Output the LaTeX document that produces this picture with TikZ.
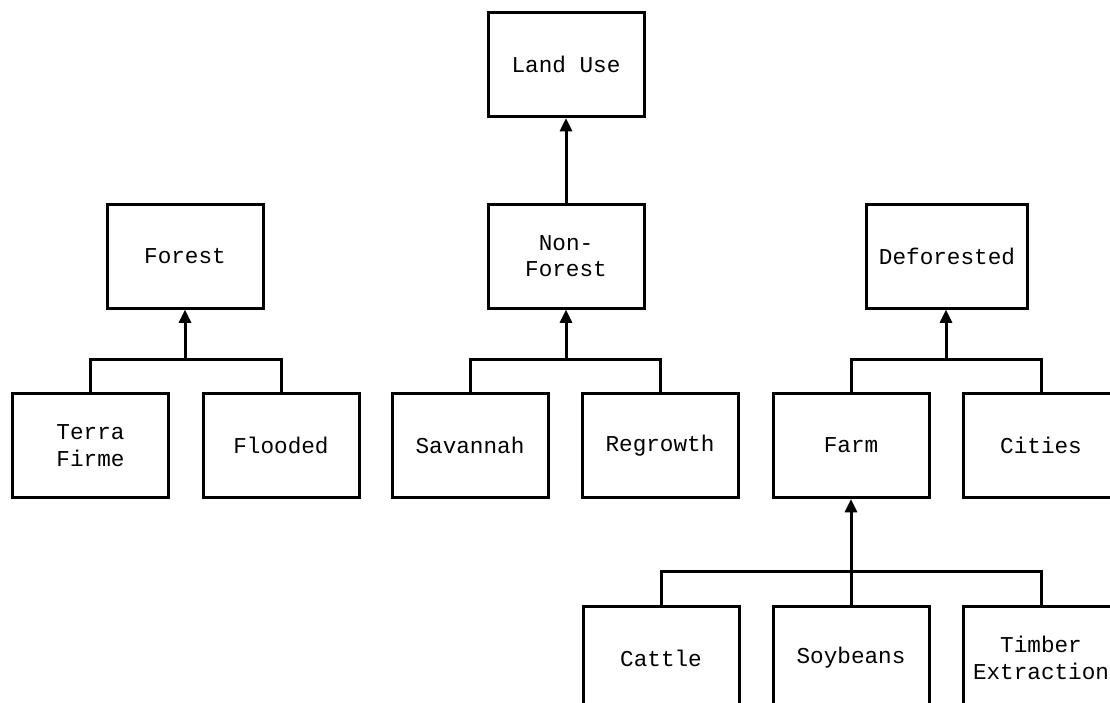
\documentclass[tikz,border=0pt]{standalone}
\usepackage{fontspec}
\setmainfont{Liberation Mono}
\usetikzlibrary{arrows.meta,calc}
\begin{document}
\begin{tikzpicture}[x=0.75pt,y=-0.75pt,
  box/.style={draw,line width=2.25pt,rectangle,minimum width=117pt,minimum height=78pt,inner sep=0pt,align=center,font=\fontsize{17}{20}\selectfont},
  link/.style={line width=2.25pt},
  up/.style={line width=2.25pt,-{Triangle[width=9pt,length=10pt]}}]
\path[use as bounding box] (0,0) rectangle (1110,703);
\begin{scope}
\clip (0,0) rectangle (1110,703);
\node[box] (landuse) at (566,64.5) {Land Use};
\node[box] (forest) at (185,256) {Forest};
\node[box] (nonforest) at (566,256) {Non-\\Forest};
\node[box,minimum width=121pt] (deforested) at (947,256) {Deforested};
\node[box] (terra) at (90.5,445.5) {Terra\\Firme};
\node[box] (flooded) at (281,445.5) {Flooded};
\node[box] (savannah) at (470,445.5) {Savannah};
\node[box] (regrowth) at (660,445.5) {Regrowth};
\node[box] (farm) at (851,445.5) {Farm};
\node[box] (cities) at (1041,445.5) {Cities};
\node[box] (cattle) at (661,658) {Cattle};
\node[box] (soybeans) at (851,658) {Soybeans};
\node[box] (timber) at (1041,658) {Timber\\Extraction};
\coordinate (fj) at (185,359);
\coordinate (nj) at (566,359);
\coordinate (dj) at (946,359);
\coordinate (mj) at (851,571);
\draw[link] (terra.north) |- (fj) -| (flooded.north);
\draw[link] (savannah.north) |- (nj) -| (regrowth.north);
\draw[link] (farm.north) |- (dj) -| (cities.north);
\draw[link] (cattle.north) |- (mj) -| (timber.north);
\draw[link] (soybeans.north) -- (mj);
\draw[up] (fj) -- (forest.south);
\draw[up] (nj) -- (nonforest.south);
\draw[up] (dj) -- (deforested.south -| dj);
\draw[up] (mj) -- (farm.south);
\draw[up] (nonforest.north) -- (landuse.south);
\end{scope}
\end{tikzpicture}
\end{document}
